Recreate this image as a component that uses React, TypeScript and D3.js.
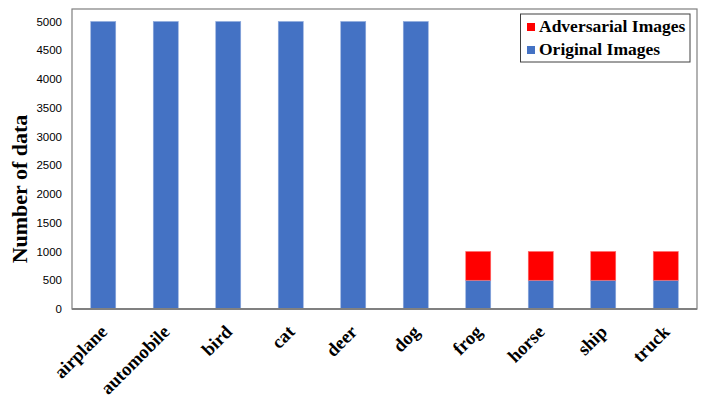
import React from 'react';
import * as d3 from 'd3';

const categories = ['airplane', 'automobile', 'bird', 'cat', 'deer', 'dog', 'frog', 'horse', 'ship', 'truck'];
const originalImages = [5000, 5000, 5000, 5000, 5000, 5000, 500, 500, 500, 500];
const adversarialImages = [0, 0, 0, 0, 0, 0, 500, 500, 500, 500];
const yTicks = [0, 500, 1000, 1500, 2000, 2500, 3000, 3500, 4000, 4500, 5000];

const width = 706;
const height = 397;
const left = 72;
const right = 697;
const top = 9;
const bottom = 309;

const blue = '#4472C4';
const red = '#FF0000';

export default function App() {
  const x = d3.scaleBand<string>().domain(categories).range([left, right]).paddingInner(0.6).paddingOuter(0.3);
  const y = d3.scaleLinear().domain([0, 5000]).range([bottom, 21.5]);

  const rows = categories.map((c, i) => ({ cat: c, original: originalImages[i], adversarial: adversarialImages[i] }));
  const stack = d3.stack<any>().keys(['original', 'adversarial'])(rows);
  const colors = [blue, red];

  return (
    <svg width={width} height={height} style={{ position: 'absolute', left: 0, top: 0 }}>
      <rect x={0} y={0} width={width} height={height} fill="white" />
      {/* plot frame */}
      <rect x={left} y={top} width={right - left} height={bottom - top} fill="none" stroke="#7f7f7f" strokeWidth={1.2} />

      {stack.map((layer, li) => (
        <g key={layer.key}>
          {layer.map((d, i) =>
            d[1] - d[0] > 0 ? (
              <rect
                key={i}
                x={x(categories[i])}
                y={y(d[1])}
                width={x.bandwidth()}
                height={y(d[0]) - y(d[1])}
                fill={colors[li]}
                stroke={li === 0 ? '#8faadc' : '#ff6b6b'}
                strokeWidth={0.6}
              />
            ) : null
          )}
        </g>
      ))}

      {/* x axis line */}
      <line x1={left} x2={right} y1={bottom} y2={bottom} stroke="#808080" strokeWidth={2} />

      {yTicks.map(t => (
        <text key={t} x={62} y={y(t) + 4} textAnchor="end" fontFamily="Liberation Sans, Arial" fontSize={11.5} fill="#000">
          {t}
        </text>
      ))}

      <text
        transform={`translate(27,${189}) rotate(-90)`}
        textAnchor="middle"
        fontFamily="Liberation Serif, Times New Roman"
        fontWeight="bold"
        fontSize={22}
      >
        Number of data
      </text>

      {categories.map(c => {
        const cx = (x(c) as number) + x.bandwidth() / 2 + 5;
        return (
          <text
            key={c}
            transform={`translate(${cx},${333}) rotate(-45)`}
            textAnchor="end"
            fontFamily="Liberation Serif, Times New Roman"
            fontWeight="bold"
            fontSize={18.5}
          >
            {c}
          </text>
        );
      })}

      {/* legend */}
      <g>
        <rect x={520.5} y={14} width={169.5} height={48} fill="white" stroke="#404040" strokeWidth={1} />
        <rect x={527} y={23} width={8} height={8} fill={red} />
        <text x={539} y={32} fontFamily="Liberation Serif, Times New Roman" fontWeight="bold" fontSize={17.5}>
          Adversarial Images
        </text>
        <rect x={527} y={46} width={8} height={8} fill={blue} />
        <text x={539} y={55} fontFamily="Liberation Serif, Times New Roman" fontWeight="bold" fontSize={17.5}>
          Original Images
        </text>
      </g>
    </svg>
  );
}
